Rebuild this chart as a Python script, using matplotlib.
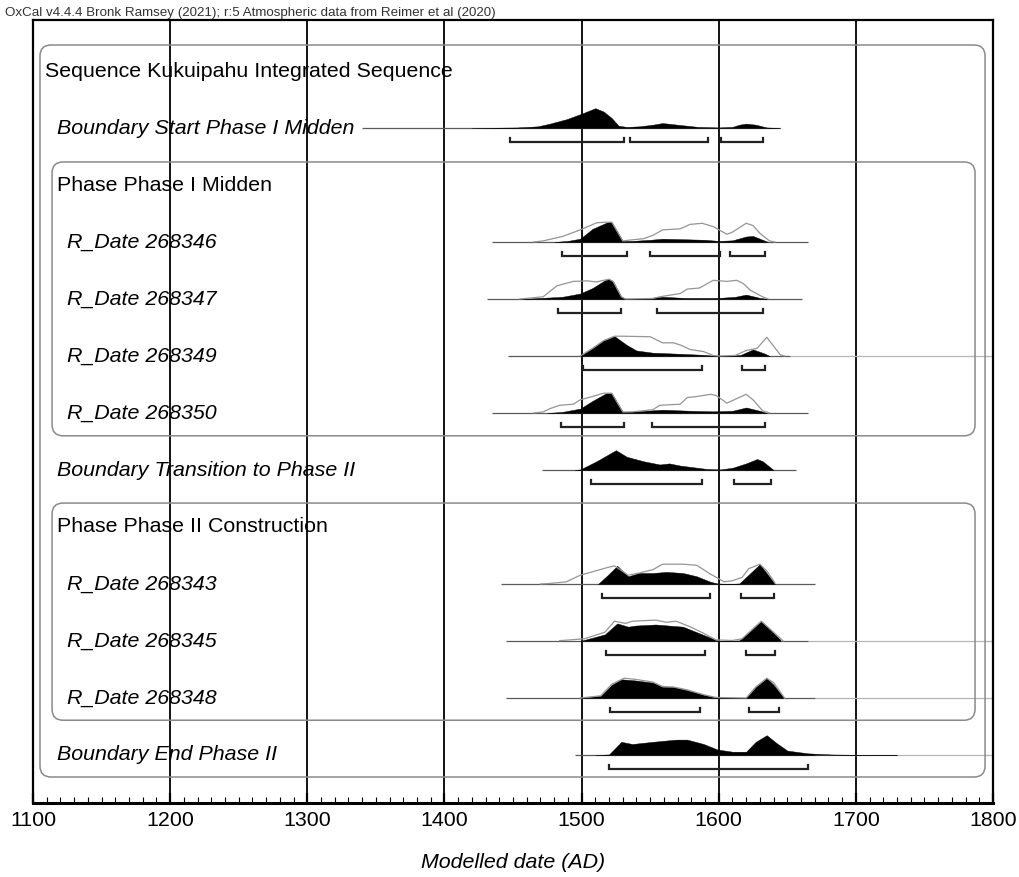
import matplotlib
matplotlib.use("Agg")
import matplotlib.pyplot as plt
from matplotlib.patches import FancyBboxPatch
from matplotlib.transforms import IdentityTransform
import numpy as np

plt.rcParams['font.family'] = ['Liberation Sans', 'DejaVu Sans']

# ---------------- data ----------------
header = "OxCal v4.4.4 Bronk Ramsey (2021); r:5 Atmospheric data from Reimer et al (2020)"
xlabel = "Modelled date (AD)"
xticks = [1100, 1200, 1300, 1400, 1500, 1600, 1700, 1800]

labels = [
    "Sequence Kukuipahu Integrated Sequence",
    "Boundary Start Phase I Midden",
    "Phase Phase I Midden",
    "R_Date 268346",
    "R_Date 268347",
    "R_Date 268349",
    "R_Date 268350",
    "Boundary Transition to Phase II",
    "Phase Phase II Construction",
    "R_Date 268343",
    "R_Date 268345",
    "R_Date 268348",
    "Boundary End Phase II",
]
label_kind = ["seq", "bound", "phase", "date", "date", "date", "date",
              "bound", "phase", "date", "date", "date", "bound"]

# Boundary Start Phase I Midden
bs_post_x = [1420, 1453, 1468, 1477, 1489, 1500, 1510, 1516, 1522, 1527, 1533, 1542, 1552, 1559, 1570, 1585, 1600, 1610, 1615, 1620, 1627, 1635, 1645]
bs_post_y = [0, 0.5, 1.5, 4, 8, 13, 18, 15, 9, 2, 1, 1.5, 3, 4.5, 3, 1, 0.5, 1, 3, 4, 3, 0.5, 0]
bs_line = (1340, 1645, None)
bs_ranges = [(1448, 1531), (1535, 1592), (1602, 1632)]

# R_Date 268346
d346_like_x = [1465, 1472, 1486, 1499, 1511, 1518, 1522, 1530, 1537, 1545, 1552, 1559, 1572, 1579, 1588, 1596, 1606, 1610, 1620, 1625, 1630, 1637, 1641]
d346_like_y = [0, 1, 5, 11, 17.5, 18, 18, 1, 2, 3, 6, 11, 12, 16, 17, 14, 7, 9, 17, 15, 8, 1, 0]
d346_post_x = [1480, 1490, 1499, 1508, 1519, 1522, 1530, 1537, 1550, 1559, 1575, 1590, 1600, 1610, 1620, 1625, 1630, 1636]
d346_post_y = [0, 1, 3, 12, 18, 18, 1, 1, 2, 3, 2.5, 2, 1, 1.5, 5, 5.5, 3, 0]
d346_line = (1435, 1665, None)
d346_ranges = [(1486, 1533), (1550, 1601), (1608, 1634)]

# R_Date 268347
d347_like_x = [1455, 1472, 1477, 1482, 1494, 1504, 1511, 1516, 1520, 1523, 1529, 1532, 1552, 1557, 1572, 1577, 1586, 1596, 1606, 1613, 1618, 1623, 1632, 1636]
d347_like_y = [0, 2, 7, 12, 16, 16.5, 15.5, 17, 18, 16, 2, 0, 0.5, 2, 5, 9, 10, 17, 16, 17, 14, 8, 2, 0]
d347_post_x = [1455, 1486, 1499, 1508, 1517, 1520, 1523, 1529, 1533, 1545, 1559, 1575, 1600, 1612, 1620, 1630, 1636]
d347_post_y = [0, 2, 5, 10, 17, 18, 16, 2, 0, 0.5, 2, 1, 1, 2, 4, 1, 0]
d347_line = (1431, 1661, None)
d347_ranges = [(1483, 1529), (1555, 1632)]

# R_Date 268349
d349_like_x = [1499, 1508, 1516, 1524, 1530, 1550, 1559, 1567, 1572, 1579, 1589, 1596, 1600, 1612, 1620, 1628, 1635, 1645, 1648]
d349_like_y = [0, 7, 14, 18, 18, 17.5, 12, 12, 10, 6, 4, 0.5, 0, 0.5, 5, 7, 17, 1, 0]
d349_post_x = [1499, 1508, 1516, 1524, 1533, 1540, 1552, 1572, 1590, 1598, 1610, 1616, 1625, 1634, 1637]
d349_post_y = [0, 7, 14, 18, 10, 5, 3, 2, 1, 0, 0.3, 1, 6, 2, 0]
d349_line = (1446, 1652, 1800)
d349_ranges = [(1501, 1588), (1617, 1634)]

# R_Date 268350
d350_like_x = [1465, 1472, 1477, 1484, 1494, 1499, 1508, 1516, 1519, 1522, 1530, 1537, 1552, 1557, 1572, 1577, 1584, 1594, 1598, 1606, 1613, 1620, 1625, 1632, 1637]
d350_like_y = [0, 1, 4, 7, 8, 12, 15, 18, 18, 18, 1, 1, 3, 7, 8, 14, 15, 17, 16, 9, 13, 17, 12, 2, 0]
d350_post_x = [1475, 1486, 1499, 1508, 1518, 1522, 1530, 1540, 1559, 1580, 1596, 1610, 1620, 1630, 1635]
d350_post_y = [0, 1, 4, 11, 18, 18, 1, 1.5, 3, 2, 1.5, 2, 5, 2, 0]
d350_line = (1435, 1665, None)
d350_ranges = [(1485, 1531), (1551, 1634)]

# Boundary Transition to Phase II
bt_post_x = [1495, 1499, 1511, 1525, 1533, 1545, 1557, 1564, 1572, 1591, 1601, 1610, 1620, 1628, 1632, 1640]
bt_post_y = [0, 0.5, 8, 18, 12, 8, 5, 6, 4, 1, 0.5, 2, 6, 10, 8, 0]
bt_line = (1471, 1656, None)
bt_ranges = [(1507, 1588), (1611, 1638)]

# R_Date 268343
d343_like_x = [1470, 1477, 1489, 1499, 1519, 1524, 1527, 1534, 1542, 1552, 1559, 1574, 1584, 1594, 1604, 1610, 1617, 1622, 1630, 1635, 1641]
d343_like_y = [0, 0.5, 2, 8, 15, 16.5, 14, 8, 10, 13, 18, 18, 17, 9, 2, 3, 6, 14, 18, 12, 1]
d343_post_x = [1512, 1519, 1526, 1534, 1542, 1552, 1562, 1574, 1584, 1594, 1599, 1608, 1615, 1630, 1641]
d343_post_y = [0, 8, 16.5, 7, 10, 10, 11, 10, 7, 2, 0.5, 0, 0.5, 18, 0]
d343_line = (1441, 1670, None)
d343_ranges = [(1515, 1594), (1616, 1640)]

# R_Date 268345
d345_like_x = [1484, 1502, 1517, 1524, 1532, 1537, 1554, 1562, 1569, 1579, 1589, 1598, 1610, 1617, 1631, 1640, 1647]
d345_like_y = [0.3, 2, 8, 18, 16, 18, 19, 17, 18, 13, 7, 1, 0.5, 2, 18, 8, 0]
d345_post_x = [1499, 1517, 1526, 1534, 1539, 1554, 1564, 1574, 1584, 1594, 1600, 1615, 1622, 1631, 1637, 1645]
d345_post_y = [0, 6, 16, 13, 14, 15, 14, 13, 8, 3, 0, 0.5, 8, 18, 11, 1]
d345_line = (1445, 1665, 1800)
d345_ranges = [(1518, 1590), (1620, 1641)]

# R_Date 268348
d348_like_x = [1499, 1514, 1522, 1531, 1539, 1552, 1559, 1567, 1577, 1589, 1598, 1620, 1627, 1635, 1640, 1648]
d348_like_y = [0, 2, 12.5, 18, 17, 14.5, 10.5, 10, 7.5, 3, 0.5, 0, 10, 18, 14, 0]
d348_post_x = [1499, 1514, 1522, 1529, 1539, 1552, 1559, 1567, 1577, 1589, 1597, 1620, 1627, 1635, 1640, 1647]
d348_post_y = [0, 2, 12, 17, 16, 14, 10, 10, 7, 3, 0.5, 0, 10, 18, 12, 1]
d348_line = (1445, 1670, 1800)
d348_ranges = [(1521, 1586), (1622, 1644)]

# Boundary End Phase II
be_post_x = [1510, 1520, 1529, 1537, 1552, 1569, 1577, 1589, 1599, 1610, 1620, 1627, 1635, 1642, 1650, 1665, 1682, 1700, 1730]
be_post_y = [0, 0.5, 12, 10, 12, 14, 14, 10, 5, 3, 3, 12, 18, 11, 4, 1.5, 0.5, 0.2, 0]
be_line = (1495, 1670, 1800)
be_ranges = [(1520, 1665)]

# row index -> (likelihood, posterior, line, ranges)
rows = {
    1: (None, (bs_post_x, bs_post_y), bs_line, bs_ranges),
    3: ((d346_like_x, d346_like_y), (d346_post_x, d346_post_y), d346_line, d346_ranges),
    4: ((d347_like_x, d347_like_y), (d347_post_x, d347_post_y), d347_line, d347_ranges),
    5: ((d349_like_x, d349_like_y), (d349_post_x, d349_post_y), d349_line, d349_ranges),
    6: ((d350_like_x, d350_like_y), (d350_post_x, d350_post_y), d350_line, d350_ranges),
    7: (None, (bt_post_x, bt_post_y), bt_line, bt_ranges),
    9: ((d343_like_x, d343_like_y), (d343_post_x, d343_post_y), d343_line, d343_ranges),
    10: ((d345_like_x, d345_like_y), (d345_post_x, d345_post_y), d345_line, d345_ranges),
    11: ((d348_like_x, d348_like_y), (d348_post_x, d348_post_y), d348_line, d348_ranges),
    12: (None, (be_post_x, be_post_y), be_line, be_ranges),
}

# ---------------- layout ----------------
W, H = 1019, 877
fig = plt.figure(figsize=(W / 100, H / 100), dpi=100)
fig.patch.set_facecolor('white')
left_px, right_px, top_px, bot_px = 33, 993, 20, 803
ax = fig.add_axes([left_px / W, 1 - bot_px / H, (right_px - left_px) / W, (bot_px - top_px) / H])
row0_px, row_px = 71, 57.0
ax.set_xlim(1100, 1800)
ax.set_ylim((bot_px - row0_px) / row_px, (top_px - row0_px) / row_px)
ax.set_facecolor('none')

HS = 1.1 / row_px          # density unit -> rows
BR = 14.0 / row_px         # bracket offset below baseline
BT = 4.0 / row_px          # bracket end tick height

for yr in xticks[1:-1]:
    ax.axvline(yr, color='black', lw=1.3, zorder=1)

for r, (like, post, line, ranges) in rows.items():
    s, e, ext = line
    if ext is not None:
        ax.plot([e, ext], [r, r], color='#b5b5b5', lw=0.9, zorder=2, solid_capstyle='butt')
    ax.plot([s, e], [r, r], color='#5a5a5a', lw=0.9, zorder=2, solid_capstyle='butt')
    px_, py_ = np.array(post[0], float), np.array(post[1], float)
    ax.fill_between(px_, r, r - py_ * HS, color='black', lw=0.3, zorder=3)
    if like is not None:
        lx, ly = np.array(like[0], float), np.array(like[1], float)
        ax.plot(lx, r - ly * HS, color='#959595', lw=0.9, zorder=4)
    for a, b in ranges:
        ax.plot([a, a, b, b], [r + BR - BT, r + BR, r + BR, r + BR - BT],
                color='#222222', lw=1.6, zorder=4, solid_joinstyle='miter')

# labels
label_x = {"seq": 1108.8, "bound": 1117.5, "phase": 1117.5, "date": 1124.8}
for i, (lab, kind) in enumerate(zip(labels, label_kind)):
    style = 'italic' if kind in ("bound", "date") else 'normal'
    ax.text(label_x[kind], i, lab, fontsize=15.4, style=style, va='center', ha='left',
            color='black', zorder=5)

# boxes (grey rounded)
def add_box(x0, x1, r0, r1):
    (X0, Y0) = ax.transData.transform((x0, r1))
    (X1, Y1) = ax.transData.transform((x1, r0))
    p = FancyBboxPatch((X0, Y0), X1 - X0, Y1 - Y0,
                       boxstyle="round,pad=0,rounding_size=11",
                       transform=IdentityTransform(), fill=False,
                       edgecolor='#8a8a8a', lw=1.1, zorder=1)
    fig.add_artist(p)

add_box(1105.1, 1794.2, -0.456, 12.386)
add_box(1113.9, 1786.9, 1.596, 6.40)
add_box(1113.9, 1786.9, 7.58, 11.39)

# axes styling
for side in ['left', 'right', 'top']:
    ax.spines[side].set_linewidth(1.6)
ax.spines['bottom'].set_linewidth(2.2)
ax.set_xticks(xticks)
ax.set_xticks(np.arange(1100, 1801, 10), minor=True)
ax.set_xticklabels([str(t) for t in xticks], fontsize=15.4)
ax.tick_params(axis='x', which='major', direction='in', length=7, width=1.6, pad=6)
ax.tick_params(axis='x', which='minor', direction='in', length=4, width=0.8)
ax.set_yticks([])
ax.set_xlabel(xlabel, fontsize=15.4, style='italic', labelpad=16)

fig.text(5 / W, 1 - 13 / H, header, fontsize=9.6, color='#333333', va='center', ha='left')

fig.savefig('out.png', dpi=100)
